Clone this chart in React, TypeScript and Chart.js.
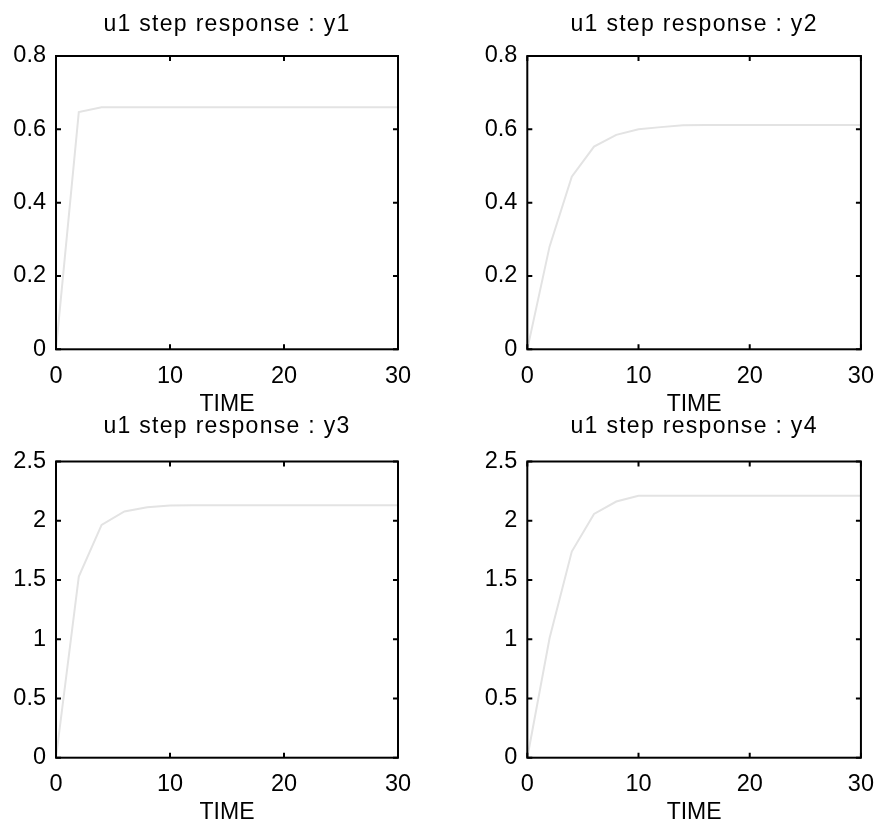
import React, { useEffect, useRef } from "react";
import { Chart, registerables } from "chart.js";

Chart.register(...registerables);

// ---- data ----
const TIME = [0, 2, 4, 6, 8, 10, 12, 14, 16, 18, 20, 22, 24, 26, 28, 30];
const Y1 = [0, 0.647, 0.66, 0.66, 0.66, 0.66, 0.66, 0.66, 0.66, 0.66, 0.66, 0.66, 0.66, 0.66, 0.66, 0.66];
const Y2 = [0, 0.28, 0.471, 0.553, 0.585, 0.6, 0.606, 0.611, 0.612, 0.612, 0.612, 0.612, 0.612, 0.612, 0.612, 0.612];
const Y3 = [0, 1.529, 1.965, 2.078, 2.114, 2.128, 2.13, 2.13, 2.13, 2.13, 2.13, 2.13, 2.13, 2.13, 2.13, 2.13];
const Y4 = [0, 1.008, 1.74, 2.058, 2.162, 2.21, 2.21, 2.21, 2.21, 2.21, 2.21, 2.21, 2.21, 2.21, 2.21, 2.21];
const TITLES = [
  "u1 step response : y1",
  "u1 step response : y2",
  "u1 step response : y3",
  "u1 step response : y4",
];
const X_LABEL = "TIME";
const X_TICKS = [0, 10, 20, 30];
const Y_TICKS_TOP = [0, 0.2, 0.4, 0.6, 0.8];
const Y_TICKS_BOTTOM = [0, 0.5, 1, 1.5, 2, 2.5];

// ---- layout / style ----
const FONT_FAMILY = '"Liberation Sans", Arial, Helvetica, sans-serif';
const TICK_FS = 23.5;
const TITLE_FS = 23;
const TITLE_SPACING = "1.3px";
const XLABEL_FS = 23;
const MID = 0.3465; // alphabetic baseline -> 'middle' offset (em)

type Panel = {
  title: string;
  values: number[];
  yTicks: number[];
  left: number;
  top: number;
  width: number;
  height: number;
  plotLeft: number;
  plotRight: number;
  plotTop: number;
  plotBottom: number;
  titleBaseline: number;
  timeBaseline: number;
};

const TOP_ROW = { top: 0, height: 420, plotTop: 56, plotBottom: 349.3, titleBaseline: 32.3, timeBaseline: 413 };
const BOTTOM_ROW = { top: 400, height: 430, plotTop: 61.5, plotBottom: 357.7, titleBaseline: 34.3, timeBaseline: 421 };
const LEFT_COL = { left: 0, width: 443, plotLeft: 56, plotRight: 398 };
const RIGHT_COL = { left: 443, width: 444, plotLeft: 84.3, plotRight: 427 };

const PANELS: Panel[] = [
  { title: TITLES[0], values: Y1, yTicks: Y_TICKS_TOP, ...TOP_ROW, ...LEFT_COL },
  { title: TITLES[1], values: Y2, yTicks: Y_TICKS_TOP, ...TOP_ROW, ...RIGHT_COL },
  { title: TITLES[2], values: Y3, yTicks: Y_TICKS_BOTTOM, ...BOTTOM_ROW, ...LEFT_COL },
  { title: TITLES[3], values: Y4, yTicks: Y_TICKS_BOTTOM, ...BOTTOM_ROW, ...RIGHT_COL },
];

// Title (layer z=0) is drawn with letter spacing; axis labels are moved to layer z=1 and drawn without it.
const boxPlugin = {
  id: "matlabBox",
  beforeDraw(chart: any) {
    chart.ctx.letterSpacing = TITLE_SPACING;
  },
  afterDatasetsDraw(chart: any) {
    const { ctx, chartArea: a, scales } = chart;
    ctx.letterSpacing = "0px";
    const tl = 5;
    ctx.save();
    ctx.strokeStyle = "#000";
    ctx.lineWidth = 2;
    ctx.beginPath();
    scales.x.ticks.forEach((t: any) => {
      const px = scales.x.getPixelForValue(t.value);
      ctx.moveTo(px, a.bottom);
      ctx.lineTo(px, a.bottom - tl);
      ctx.moveTo(px, a.top);
      ctx.lineTo(px, a.top + tl);
    });
    scales.y.ticks.forEach((t: any) => {
      const py = scales.y.getPixelForValue(t.value);
      ctx.moveTo(a.left, py);
      ctx.lineTo(a.left + tl, py);
      ctx.moveTo(a.right, py);
      ctx.lineTo(a.right - tl, py);
    });
    ctx.stroke();
    ctx.strokeRect(a.left, a.top, a.right - a.left, a.bottom - a.top);
    ctx.restore();
  },
  afterDraw(chart: any) {
    chart.ctx.letterSpacing = "0px";
  },
};

function SubPlot({ p }: { p: Panel }) {
  const ref = useRef<HTMLCanvasElement | null>(null);
  useEffect(() => {
    if (!ref.current) return;
    const titleLh = TITLE_FS * 1.2;
    const titleMid = p.titleBaseline - MID * TITLE_FS;
    const titlePadTop = titleMid - titleLh / 2;
    const titlePadBottom = p.plotTop - titlePadTop - titleLh;
    const xlLh = XLABEL_FS * 1.2;
    const timeMid = p.timeBaseline - MID * XLABEL_FS;
    const timePadBottom = p.height - timeMid - xlLh / 2;
    const tickFont = { family: FONT_FAMILY, size: TICK_FS, lineHeight: 1.2 };
    const yMin = p.yTicks[0];
    const yMax = p.yTicks[p.yTicks.length - 1];

    const chart = new Chart(ref.current, {
      type: "line",
      data: {
        datasets: [
          {
            data: TIME.map((t, i) => ({ x: t, y: p.values[i] })),
            borderColor: "#e3e3e3",
            borderWidth: 2,
            pointRadius: 0,
            tension: 0,
            fill: false,
          },
        ],
      },
      options: {
        animation: false,
        responsive: false,
        devicePixelRatio: 1,
        layout: { padding: { left: 0, top: 0, bottom: 0, right: p.width - p.plotRight } },
        plugins: {
          legend: { display: false },
          tooltip: { enabled: false },
          title: {
            display: true,
            text: p.title,
            color: "#000",
            font: { family: FONT_FAMILY, size: TITLE_FS, lineHeight: 1.2, weight: "normal" },
            fullSize: false,
            padding: { top: titlePadTop, bottom: titlePadBottom },
          },
        },
        scales: {
          x: {
            type: "linear",
            min: X_TICKS[0],
            max: X_TICKS[X_TICKS.length - 1],
            grid: { display: false, drawTicks: false, z: 1 },
            border: { display: false },
            afterBuildTicks: (s: any) => {
              s.ticks = X_TICKS.map((v) => ({ value: v }));
            },
            afterFit: (s: any) => {
              s.height = p.height - p.plotBottom;
            },
            ticks: {
              color: "#000",
              font: tickFont,
              padding: 13,
              maxRotation: 0,
              autoSkip: false,
              z: 1,
              callback: (v: any) => String(v),
            },
            title: {
              display: true,
              text: X_LABEL,
              color: "#000",
              font: { family: FONT_FAMILY, size: XLABEL_FS, lineHeight: 1.2 },
              padding: { top: 0, bottom: timePadBottom },
            },
          },
          y: {
            type: "linear",
            min: yMin,
            max: yMax,
            grid: { display: false, drawTicks: false, z: 1 },
            border: { display: false },
            afterBuildTicks: (s: any) => {
              s.ticks = p.yTicks.map((v) => ({ value: v }));
            },
            afterFit: (s: any) => {
              s.width = p.plotLeft;
            },
            ticks: {
              color: "#000",
              font: tickFont,
              padding: 10,
              autoSkip: false,
              z: 1,
              callback: (v: any) => String(v),
            },
          },
        },
      } as any,
      plugins: [boxPlugin],
    });
    return () => chart.destroy();
  }, [p]);

  return (
    <canvas
      ref={ref}
      width={p.width}
      height={p.height}
      style={{ position: "absolute", left: p.left, top: p.top, width: p.width, height: p.height }}
    />
  );
}

export default function App() {
  return (
    <div
      style={{
        position: "fixed",
        left: 0,
        top: 0,
        width: 887,
        height: 825,
        overflow: "hidden",
        background: "#fff",
      }}
    >
      {PANELS.map((p, i) => (
        <SubPlot key={i} p={p} />
      ))}
    </div>
  );
}
